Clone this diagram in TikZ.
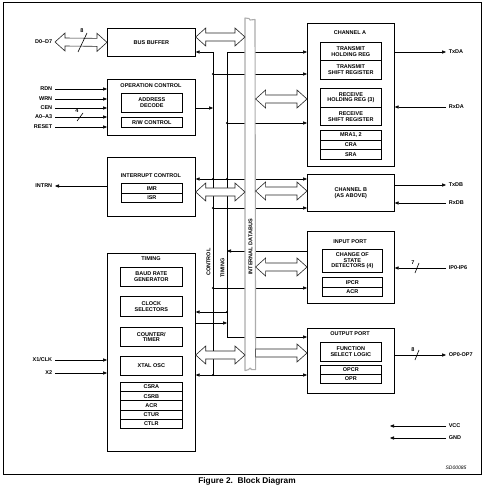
\documentclass[tikz,border=0pt]{standalone}
\usepackage{fontspec}
\setmainfont{Liberation Sans}
\usetikzlibrary{arrows.meta,calc}
\newcommand{\sbf}{\fontsize{5.5}{5.6}\selectfont\bfseries}
\newcommand{\hbi}[2]{%
  \coordinate (hA) at (#1); \coordinate (hB) at (#2);
  \path[harrow] (hA) -- ([shift={(10,-9)}]hA) -- ([shift={(10,-4)}]hA) -- ([shift={(-10,-4)}]hB) -- ([shift={(-10,-9)}]hB) -- (hB) -- ([shift={(-10,9)}]hB) -- ([shift={(-10,4)}]hB) -- ([shift={(10,4)}]hA) -- ([shift={(10,9)}]hA) -- cycle;}
\newcommand{\huni}[2]{%
  \coordinate (hA) at (#1); \coordinate (hB) at (#2);
  \path[harrow] ([shift={(0,-4)}]hA) -- ([shift={(-10,-4)}]hB) -- ([shift={(-10,-9)}]hB) -- (hB) -- ([shift={(-10,9)}]hB) -- ([shift={(-10,4)}]hB) -- ([shift={(0,4)}]hA) -- cycle;}
\begin{document}
\begin{tikzpicture}[x=1pt,y=-1pt, line width=0.6pt,
  blk/.style={draw, line width=0.7pt, anchor=north west, inner sep=0pt, align=center, font=\sbf},
  ttl/.style={font=\sbf, inner sep=0pt, align=center},
  lab/.style={font=\sbf, inner xsep=2.5pt, inner ysep=0pt},
  sig/.style={-{Triangle[length=4pt,width=3.2pt]}},
  bisig/.style={{Triangle[length=4pt,width=3.2pt]}-{Triangle[length=4pt,width=3.2pt]}},
  jdot/.style={circle, fill, inner sep=0pt, minimum size=2.2pt},
  harrow/.style={draw=black!85, line width=0.6pt, fill=white, line join=miter},
]
\useasboundingbox (0,0) rectangle (490,487);
\draw[line width=0.8pt] (3,2) rectangle (481,474);

% ---------------- left blocks
\node[blk, minimum width=88pt, minimum height=28pt] (bb) at (107,28) {BUS BUFFER};

\node[blk, minimum width=88pt, minimum height=56pt] (opc) at (107,79) {};
\node[ttl] (opct) at (151,86) {OPERATION CONTROL};
\node[blk, minimum width=61pt, minimum height=19pt] (ad) at (121,93) {ADDRESS\\DECODE};
\node[blk, minimum width=61pt, minimum height=10pt] (rw) at (121,117) {R/W CONTROL};

\node[blk, minimum width=88pt, minimum height=59pt] (ic) at (107,157) {};
\node[ttl] (ict) at (151,176) {INTERRUPT CONTROL};
\node[blk, minimum width=61pt, minimum height=10pt] (imr) at (121,183) {IMR};
\node[blk, minimum width=61pt, minimum height=9pt] (isr) at (121,193) {ISR};

\node[blk, minimum width=88pt, minimum height=198pt] (tm) at (107,253) {};
\node[ttl] (tmt) at (151,259) {TIMING};
\node[blk, minimum width=62pt, minimum height=19pt] (baud) at (120,267) {BAUD RATE\\GENERATOR};
\node[blk, minimum width=62pt, minimum height=20pt] (clks) at (120,296) {CLOCK\\SELECTORS};
\node[blk, minimum width=62pt, minimum height=19pt] (ctr) at (120,327) {COUNTER/\\TIMER};
\node[blk, minimum width=62pt, minimum height=19pt] (xtal) at (120,356) {XTAL OSC};
\node[blk, minimum width=62pt, minimum height=9.2pt] (csra) at (120,382) {CSRA};
\node[blk, minimum width=62pt, minimum height=9.2pt] (csrb) at (120,391.2) {CSRB};
\node[blk, minimum width=62pt, minimum height=9.2pt] (acrt) at (120,400.4) {ACR};
\node[blk, minimum width=62pt, minimum height=9.2pt] (ctur) at (120,409.6) {CTUR};
\node[blk, minimum width=62pt, minimum height=9.2pt] (ctlr) at (120,418.8) {CTLR};

% ---------------- right blocks
\node[blk, minimum width=87pt, minimum height=143pt] (cha) at (307,23) {};
\node[ttl] (chat) at (350,33) {CHANNEL A};
\node[blk, minimum width=61pt, minimum height=18pt] (thr) at (320,42) {TRANSMIT\\HOLDING REG};
\node[blk, minimum width=61pt, minimum height=19pt] (tsr) at (320,60) {TRANSMIT\\SHIFT REGISTER};
\node[blk, minimum width=61pt, minimum height=19pt] (rhr) at (320,88) {RECEIVE\\HOLDING REG (3)};
\node[blk, minimum width=61pt, minimum height=18pt] (rsr) at (320,107) {RECEIVE\\SHIFT REGISTER};
\node[blk, minimum width=61pt, minimum height=10pt] (mra) at (320,130) {MRA1, 2};
\node[blk, minimum width=61pt, minimum height=9.3pt] (cra) at (320,140) {CRA};
\node[blk, minimum width=61pt, minimum height=9.3pt] (sra) at (320,149.3) {SRA};

\node[blk, minimum width=87pt, minimum height=37pt] (chb) at (307,174) {CHANNEL B\\(AS ABOVE)};

\node[blk, minimum width=87pt, minimum height=72pt] (ip) at (307,231) {};
\node[ttl] (ipt) at (350,242) {INPUT PORT};
\node[blk, minimum width=60pt, minimum height=23pt] (cos) at (322,249) {CHANGE OF\\STATE\\DETECTORS (4)};
\node[blk, minimum width=60pt, minimum height=10pt] (ipcr) at (322,277) {IPCR};
\node[blk, minimum width=60pt, minimum height=9pt] (acr) at (322,287) {ACR};

\node[blk, minimum width=87pt, minimum height=65pt] (op) at (307,328) {};
\node[ttl] (opt) at (350,334) {OUTPUT PORT};
\node[blk, minimum width=61pt, minimum height=19pt] (fsl) at (320,342) {FUNCTION\\SELECT LOGIC};
\node[blk, minimum width=61pt, minimum height=9pt] (opcr) at (320,365) {OPCR};
\node[blk, minimum width=61pt, minimum height=9pt] (opr) at (320,374) {OPR};

% ---------------- bus lines
\coordinate (ctlTop) at (213,52);
\coordinate (ctlBot) at (213,375);
\coordinate (tmTop) at (227,52);
\coordinate (tmBot) at (227,337);

\draw[sig] (ctlTop) -- (bb.east |- ctlTop);
\draw (ctlTop) -- (ctlBot);
\draw[sig] (tmBot) -- (tmTop) -- (cha.west |- tmTop);
\draw[sig] (tmBot) -- (op.west |- tmBot);

% junctions
\coordinate (j74) at (213,74);
\coordinate (j108) at (213,108);
\coordinate (j123) at (227,123);
\coordinate (j179a) at (213,179);
\coordinate (j179b) at (227,179);
\coordinate (j208) at (213,208);
\coordinate (j251) at (227,251);
\coordinate (j288) at (213,288);
\coordinate (j312) at (227,312);
\coordinate (j323) at (227,323);

\draw[sig] (j74) -- (cha.west |- j74);
\draw[sig] (opc.east |- j108) -- (j108);
\draw[sig] (j123) -- (cha.west |- j123);
\draw[bisig] (ic.east |- j179a) -- (chb.west |- j179a);
\draw[sig] (j208) -- (chb.west |- j208);
\draw[sig] (ip.west |- j251) -- (j251);
\draw[sig] (j288) -- (ip.west |- j288);
\draw[sig] (j312) -- (tm.east |- j312);
\draw[sig] (tm.east |- j323) -- (j323);
\draw[bisig] (tm.east |- ctlBot) -- (op.west |- ctlBot);

\foreach \j in {j74,j123,j179a,j179b,j208,j288,j312,ctlBot}
  \node[jdot] at (\j) {};

% ---------------- internal data bus bar (ragged ends)
\node[fill=white, minimum width=10pt, minimum height=352pt, anchor=north west, inner sep=0pt] (bus) at (245,18) {};
\draw[gray!65, line width=1.1pt, line join=round]
  (bus.south west) -- (bus.north west) -- ++(4,0.5) -- ++(1,1.5) -- ++(5,-0.5) -- ([yshift=1]bus.south east)
  -- ++(-4,0) -- ++(-1.5,-1.5) -- ++(-1.5,1.5) -- cycle;
\node[ttl, rotate=90] at (250.5,247) {INTERNAL DATABUS};
\node[ttl, rotate=90] at (208.5,262) {CONTROL};
\node[ttl, rotate=90] at (222.5,268) {TIMING};

% hollow arrows
\coordinate (h37) at (0,37);
\coordinate (h99) at (0,99);
\coordinate (h192) at (0,192);
\coordinate (h191) at (0,191);
\coordinate (h267) at (0,267);
\coordinate (h355) at (0,355);
\coordinate (h353) at (0,353);
\hbi{bb.east |- h37}{bus.west |- h37}
\hbi{bus.east |- h99}{cha.west |- h99}
\hbi{ic.east |- h192}{bus.west |- h192}
\hbi{bus.east |- h191}{chb.west |- h191}
\hbi{bus.east |- h267}{ip.west |- h267}
\hbi{tm.east |- h355}{bus.west |- h355}
\huni{bus.east |- h353}{op.west |- h353}

% ---------------- left signals
\node[lab, anchor=east] (d07) at (55,42) {D0--D7};
\hbi{d07.east}{bb.west}
\draw (78,52) -- (87,33);
\node[ttl] at (82,31) {8};

\node[lab, anchor=east] (rdn) at (55,89) {RDN};
\node[lab, anchor=east] (wrn) at (55,99) {WRN};
\node[lab, anchor=east] (cen) at (55,108) {CEN};
\node[lab, anchor=east] (a03) at (55,117) {A0--A3};
\node[lab, anchor=east] (rst) at (55,127) {RESET};
\foreach \s in {rdn,wrn,cen,a03,rst}
  \draw[sig] (\s.east) -- (opc.west |- \s.east);
\draw (77,121) -- (83,113);
\node[ttl] at (77,111) {4};

\node[lab, anchor=east] (intrn) at (55,186) {INTRN};
\draw[sig] (ic.west |- intrn.east) -- (intrn.east);

\node[lab, anchor=east] (x1) at (55,360) {X1/CLK};
\node[lab, anchor=east] (x2) at (55,373) {X2};
\draw[sig] (x1.east) -- (tm.west |- x1.east);
\draw[sig] (x2.east) -- (tm.west |- x2.east);

% ---------------- right signals
\node[lab, anchor=west] (txda) at (446,52) {TxDA};
\node[lab, anchor=west] (rxda) at (446,107) {RxDA};
\draw[sig] (cha.east |- txda.west) -- (txda.west);
\draw[sig] (rxda.west) -- (cha.east |- rxda.west);

\node[lab, anchor=west] (txdb) at (446,185) {TxDB};
\node[lab, anchor=west] (rxdb) at (446,203) {RxDB};
\draw[sig] (chb.east |- txdb.west) -- (txdb.west);
\draw[sig] (rxdb.west) -- (chb.east |- rxdb.west);

\node[lab, anchor=west] (ipin) at (446,268) {IP0-IP6};
\draw[sig] (ipin.west) -- (ip.east |- ipin.west);
\draw (415,273) -- (419,263);
\node[ttl] at (413,263) {7};

\node[lab, anchor=west] (opout) at (446,355) {OP0-OP7};
\draw[sig] (op.east |- opout.west) -- (opout.west);
\draw (415,360) -- (419,350);
\node[ttl] at (413,350) {8};

\coordinate (vccend) at (390,426);
\coordinate (gndend) at (390,438);
\node[lab, anchor=west] (vcc) at (446,426) {VCC};
\node[lab, anchor=west] (gnd) at (446,438) {GND};
\draw[sig] (vcc.west) -- (vccend);
\draw[sig] (gnd.west) -- (gndend);

% ---------------- caption
\node[font=\fontsize{5}{6}\selectfont\itshape, inner sep=0pt] at (456,468) {SD00085};
\node[font=\fontsize{8.3}{9}\selectfont\bfseries, inner sep=0pt] at (247,481) {Figure 2.\ \ Block Diagram};
\end{tikzpicture}
\end{document}
